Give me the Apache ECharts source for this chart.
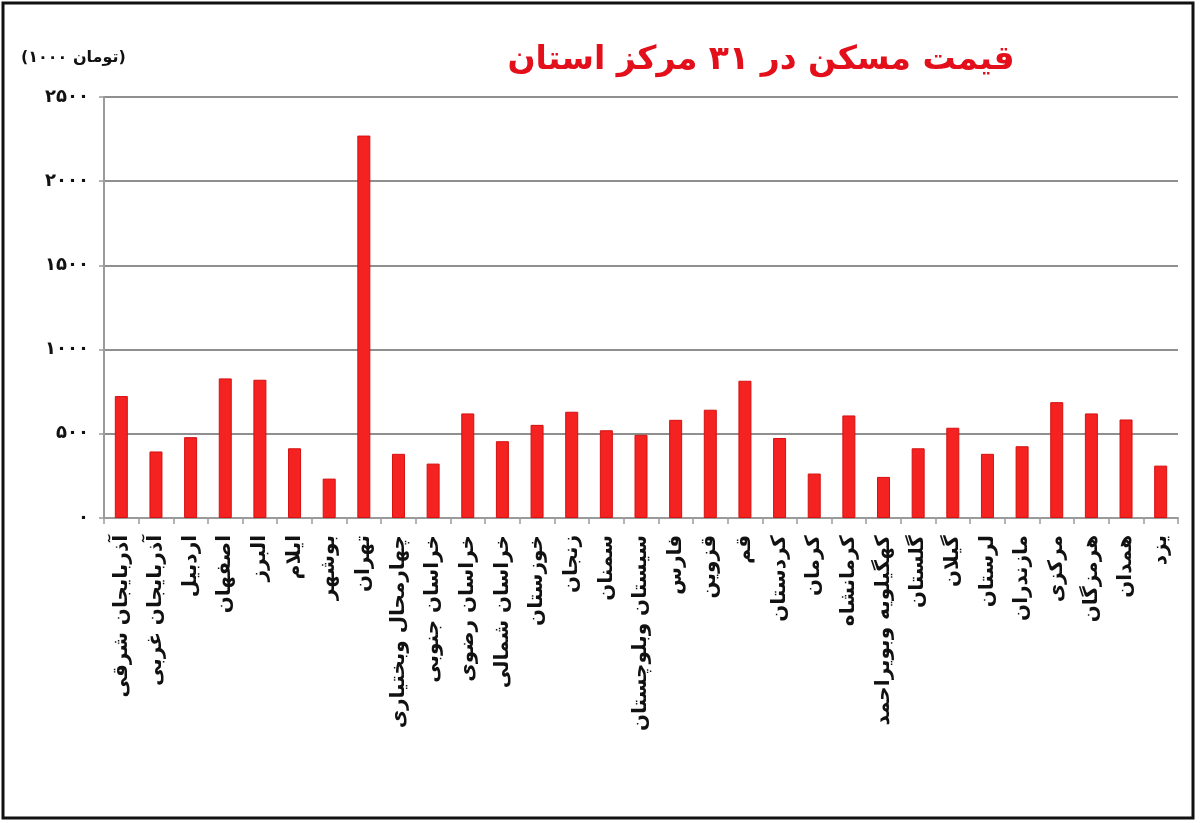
<!DOCTYPE html>
<html>
<head>
<meta charset="utf-8">
<script src="https://cdn.jsdelivr.net/npm/echarts@6/dist/echarts.min.js"></script>
<style>
html,body{margin:0;padding:0;background:#fff;}
#chart{width:1200px;height:823px;}
</style>
</head>
<body>
<div id="chart"></div>
<script>
const titleText = 'قیمت مسکن در ۳۱ مرکز استان';
const unitText = '(۱۰۰۰ تومان)';
const provinces = [
  'آذربایجان شرقی','آذربایجان غربی','اردبیل','اصفهان','البرز','ایلام','بوشهر','تهران',
  'چهارمحال وبختیاری','خراسان جنوبی','خراسان رضوی','خراسان شمالی','خوزستان','زنجان','سمنان',
  'سیستان وبلوچستان','فارس','قزوین','قم','کردستان','کرمان','کرمانشاه','کهگیلویه وبویراحمد',
  'گلستان','گیلان','لرستان','مازندران','مرکزی','هرمزگان','همدان','یزد'
];
const prices = [
  724, 395, 480, 829, 821, 414, 234, 2271,
  381, 323, 621, 456, 553, 631, 521,
  494, 583, 643, 815, 475, 264, 609, 244,
  414, 536, 381, 426, 688, 621, 585, 311
];
const yMin = 0, yMax = 2500, yStep = 500;

const faDigits = '۰۱۲۳۴۵۶۷۸۹';
function toFa(v){ return String(v).replace(/[0-9]/g, d => faDigits[+d]); }

const chart = echarts.init(document.getElementById('chart'), null, {renderer:'canvas'});
const font = 'DejaVu Sans';
chart.setOption({
  backgroundColor: '#ffffff',
  animation: false,
  textStyle: { fontFamily: font },
  title: {
    text: titleText,
    left: 756, top: 39, textAlign: 'center',
    textStyle: { color: '#e3101c', fontSize: 33, fontWeight: 'bold', fontFamily: font }
  },
  graphic: [
    { type: 'text', left: 21, top: 50,
      style: { text: unitText, fill: '#111', font: 'bold 16px "DejaVu Sans"' } },
    { type: 'rect', shape: { x: 3, y: 3, width: 1190, height: 815 },
      style: { fill: 'none', stroke: '#111', lineWidth: 3 }, silent: true }
  ],
  grid: { left: 104, right: 22, top: 97, bottom: 305, containLabel: false },
  xAxis: {
    type: 'category',
    data: provinces,
    boundaryGap: true,
    axisLine: { lineStyle: { color: '#9a9a9a', width: 2 } },
    axisTick: { show: true, alignWithLabel: false, length: 6, lineStyle: { color: '#9a9a9a', width: 1.5 } },
    axisLabel: { interval: 0, rotate: 90, margin: 17, color: '#111', fontSize: 20, fontWeight: 'bold', fontFamily: font }
  },
  yAxis: {
    type: 'value',
    min: yMin, max: yMax, interval: yStep,
    axisLine: { show: true, lineStyle: { color: '#9a9a9a', width: 2 } },
    axisTick: { show: true, length: 5, lineStyle: { color: '#9a9a9a', width: 1.5 } },
    splitLine: { show: true, lineStyle: { color: '#8f8f8f', width: 2 } },
    axisLabel: { margin: 15, color: '#111', fontSize: 18, fontWeight: 'bold', fontFamily: font,
      formatter: v => toFa(v) }
  },
  series: [{
    type: 'bar',
    data: prices,
    barWidth: 13,
    itemStyle: { color: '#f52222', borderColor: '#d41010', borderWidth: 1 }
  }]
});
</script>
</body>
</html>
